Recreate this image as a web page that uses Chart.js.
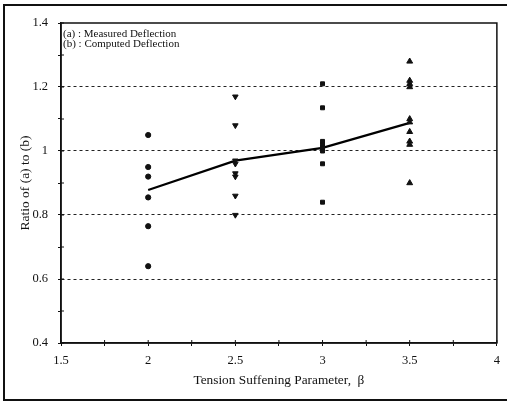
<!DOCTYPE html>
<html>
<head>
<meta charset="utf-8">
<script src="https://cdn.jsdelivr.net/npm/chart.js@4"></script>
<style>
  body { margin: 0; background: #fff; }
  canvas { display: block; }
</style>
</head>
<body>
<canvas id="ratio-chart" width="507" height="402"></canvas>
<script>
// beta values where the measurements are grouped
const betaGroups = [2, 2.5, 3, 3.5];
// ratio of measured to computed deflection, one list per beta
const ratioBeta2 = [1.05, 0.95, 0.92, 0.855, 0.765, 0.64];
const ratioBeta25 = [1.17, 1.08, 0.97, 0.96, 0.93, 0.92, 0.86, 0.80];
const ratioBeta3 = [1.21, 1.135, 1.03, 1.02, 1.01, 1.0, 0.96, 0.84];
const ratioBeta35 = [1.28, 1.22, 1.21, 1.20, 1.10, 1.09, 1.06, 1.03, 1.02, 0.90];
// mean line
const meanRatio = [0.878, 0.97, 1.01, 1.088];

const legendLines = ["(a) : Measured Deflection", "(b) : Computed Deflection"];
const xTitle = "Tension Suffening Parameter,  \u03b2";
const yTitle = "Ratio of (a) to (b)";

const serif = "'Liberation Serif', 'DejaVu Serif', serif";

const toPoints = (x, list) => list.map(v => ({ x: x, y: v }));

const frameAndNotes = {
    id: "frameAndNotes",
    beforeDraw(chart) {
        const ctx = chart.ctx;
        ctx.save();
        ctx.fillStyle = "#fff";
        ctx.fillRect(0, 0, chart.width, chart.height);
        ctx.strokeStyle = "#111";
        ctx.lineWidth = 2;
        ctx.strokeRect(4, 5, 520, 395);
        ctx.restore();
    },
    beforeDatasetsDraw(chart) {
        const ctx = chart.ctx;
        const a = chart.chartArea;
        ctx.save();
        ctx.strokeStyle = "#111";
        ctx.lineWidth = 1.5;
        ctx.strokeRect(a.left, a.top, a.right - a.left, a.bottom - a.top);
        // inward half of the tick marks
        ctx.lineWidth = 1;
        const xs = chart.scales.x, ys = chart.scales.y;
        ctx.beginPath();
        xs.ticks.forEach(t => {
            const px = xs.getPixelForValue(t.value);
            ctx.moveTo(px, a.bottom);
            ctx.lineTo(px, a.bottom - 3);
        });
        ys.ticks.forEach(t => {
            const py = ys.getPixelForValue(t.value);
            ctx.moveTo(a.left, py);
            ctx.lineTo(a.left + 3, py);
        });
        ctx.stroke();
        ctx.fillStyle = "#111";
        ctx.font = "11px " + serif;
        ctx.textBaseline = "middle";
        legendLines.forEach((s, i) => ctx.fillText(s, a.left + 2, a.top + 11 + i * 10));
        ctx.restore();
    }
};

new Chart(document.getElementById("ratio-chart"), {
    type: "scatter",
    data: {
        datasets: [
            {
                data: toPoints(betaGroups[0], ratioBeta2),
                pointStyle: "circle", pointRadius: 2.6,
                backgroundColor: "#111", borderColor: "#111"
            },
            {
                data: toPoints(betaGroups[1], ratioBeta25),
                pointStyle: "triangle", pointRotation: 180, pointRadius: 3.2,
                backgroundColor: "#111", borderColor: "#111"
            },
            {
                data: toPoints(betaGroups[2], ratioBeta3),
                pointStyle: "rect", pointRadius: 2.8,
                backgroundColor: "#111", borderColor: "#111"
            },
            {
                data: toPoints(betaGroups[3], ratioBeta35),
                pointStyle: "triangle", pointRadius: 3.4,
                backgroundColor: "#111", borderColor: "#111"
            },
            {
                data: betaGroups.map((b, i) => ({ x: b, y: meanRatio[i] })),
                showLine: true, pointRadius: 0,
                borderColor: "#000", borderWidth: 2.2
            }
        ]
    },
    options: {
        responsive: false,
        animation: false,
        layout: { padding: { left: 16, top: 23, right: 9, bottom: 10 } },
        plugins: {
            legend: { display: false },
            tooltip: { enabled: false }
        },
        scales: {
            x: {
                type: "linear",
                min: 1.5, max: 4,
                afterFit: scale => { scale.height = 49; },
                ticks: {
                    stepSize: 0.25,
                    autoSkip: false,
                    maxRotation: 0,
                    padding: 7,
                    color: "#111",
                    font: { family: serif, size: 12.5 },
                    callback: v => (Math.round(v * 4) % 2 === 0 ? String(v) : "")
                },
                grid: {
                    color: "rgba(0,0,0,0)",
                    tickColor: "#111",
                    tickLength: 3
                },
                border: { color: "#111", width: 1.5 },
                title: {
                    display: true,
                    text: xTitle,
                    color: "#111",
                    font: { family: serif, size: 13.3 },
                    padding: { top: 0, bottom: 4 }
                }
            },
            y: {
                min: 0.4, max: 1.4,
                afterFit: scale => { scale.width = 45; },
                ticks: {
                    stepSize: 0.1,
                    autoSkip: false,
                    padding: 10,
                    color: "#111",
                    font: { family: serif, size: 12.5 },
                    callback: v => (Math.round(v * 10) % 2 === 0 ? String(Math.round(v * 10) / 10) : "")
                },
                grid: {
                    color: c => {
                        const k = Math.round(c.tick.value * 10);
                        return (k % 2 === 0 && k > 4 && k < 14) ? "#222" : "rgba(0,0,0,0)";
                    },
                    lineWidth: 1,
                    tickColor: "#111",
                    tickLength: 3
                },
                border: { color: "#111", width: 1.5, dash: [3, 3] },
                title: {
                    display: true,
                    text: yTitle,
                    color: "#111",
                    font: { family: serif, size: 13.5 },
                    padding: { top: 1, bottom: 0 }
                }
            }
        }
    },
    plugins: [frameAndNotes]
});
</script>
</body>
</html>
